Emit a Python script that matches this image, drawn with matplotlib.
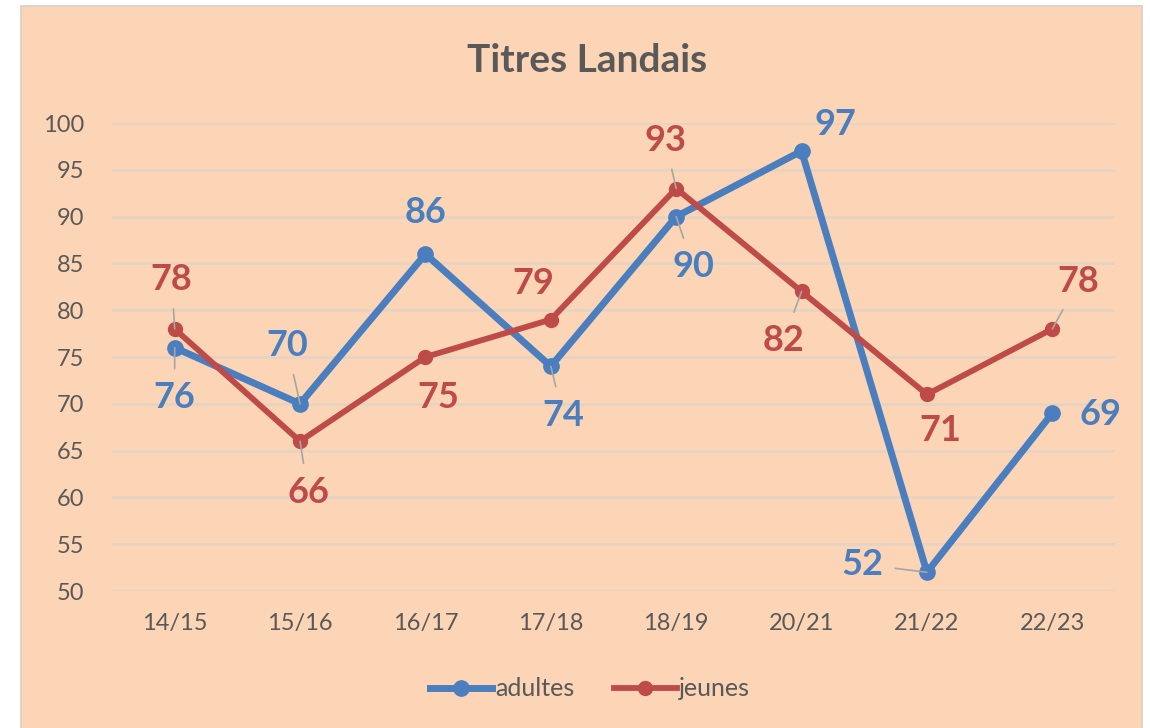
import matplotlib.pyplot as plt
from matplotlib.patches import Rectangle

saisons = ["14/15", "15/16", "16/17", "17/18", "18/19", "20/21", "21/22", "22/23"]
adultes = [76, 70, 86, 74, 90, 97, 52, 69]
jeunes = [78, 66, 75, 79, 93, 82, 71, 78]

# label offsets in pixels (dx, dy) and whether Excel drew a leader line
off_adultes = [(0, -50), (-13, 58), (0, 42), (12, -49), (17, -50), (34, 27), (-65, 8), (48, -1)]
lead_adultes = [True, True, False, True, True, False, True, False]
off_jeunes = [(-3, 49), (8, -51), (13, -41), (-18, 36), (-11, 48), (-18, -49), (13, -36), (26, 47)]
lead_jeunes = [True, True, False, False, True, True, False, True]

BG = "#FBD5B5"
BLUE = "#4A7EBF"
RED = "#BE4B48"
TXT = "#595959"

plt.rcParams["font.family"] = ["Lato", "DejaVu Sans"]

fig = plt.figure(figsize=(11.5, 7.28), dpi=100)
fig.patch.set_facecolor("white")
fig.patches.append(Rectangle((21 / 1150, -0.01), 1121 / 1150, 1 - 6 / 728 + 0.01,
                             transform=fig.transFigure, facecolor=BG,
                             edgecolor="#D9CFC6", lw=1.2, zorder=-5))

ax = fig.add_axes([112 / 1150, 1 - 591 / 728, 1003 / 1150, 468 / 728])
ax.set_facecolor("none")
ax.set_zorder(2)
x = list(range(len(saisons)))

ax.plot(x, adultes, color=BLUE, lw=5, marker="o", ms=11, label="adultes", zorder=3)
ax.plot(x, jeunes, color=RED, lw=4.2, marker="o", ms=10, label="jeunes", zorder=4)


def labels(vals, offs, leads, col):
    for xi, v, (dx, dy), lead in zip(x, vals, offs, leads):
        ap = None
        if lead:
            ap = dict(arrowstyle="-", color="#A6A6A6", lw=1.2, shrinkA=7, shrinkB=0)
        ax.annotate(str(v), (xi, v), xytext=(dx, dy), textcoords="offset pixels",
                    ha="center", va="center", fontsize=26, fontweight="bold",
                    color=col, arrowprops=ap, zorder=5)


labels(adultes, off_adultes, lead_adultes, BLUE)
labels(jeunes, off_jeunes, lead_jeunes, RED)

ax.set_xlim(-0.5, len(saisons) - 0.5)
ax.set_ylim(50, 100)
ax.set_yticks(range(50, 101, 5))
ax.set_xticks(x)
ax.set_xticklabels(saisons)
ax.grid(axis="y", color="#E6D3C3", lw=2)
ax.set_axisbelow(True)
for s in ax.spines.values():
    s.set_visible(False)
ax.tick_params(length=0, labelsize=17, labelcolor=TXT)
ax.tick_params(axis="x", pad=16)
ax.tick_params(axis="y", pad=20)

fig.text(587 / 1150, 1 - 60 / 728, "Titres Landais", ha="center", va="center",
         fontsize=28, fontweight="bold", color=TXT)

fig.legend(loc="center", bbox_to_anchor=(590 / 1150, 1 - 689 / 728), ncol=2,
           frameon=False, fontsize=18, labelcolor=TXT, handlelength=2.5,
           handletextpad=0.1, columnspacing=1.6)

fig.savefig("out.png", dpi=100, facecolor=fig.get_facecolor())
